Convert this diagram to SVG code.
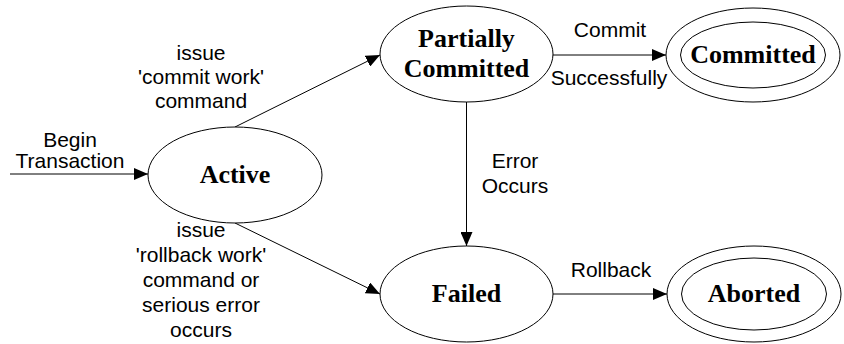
<svg xmlns="http://www.w3.org/2000/svg" width="844" height="344" viewBox="0 0 844 344">
<style>
.st{fill:#fff;stroke:#000;stroke-width:1}
.t{font-family:"Liberation Serif","Times New Roman",serif;font-weight:bold;font-size:26px;text-anchor:middle;fill:#000}
.l{font-family:"Liberation Sans",Arial,sans-serif;font-size:21px;text-anchor:middle;fill:#000}
.c{stroke:#000;stroke-width:1;fill:none;marker-end:url(#ah)}
</style>
<defs>
<marker id="ah" markerWidth="14" markerHeight="12" refX="14" refY="6" orient="auto" markerUnits="userSpaceOnUse">
<path d="M0,0 L14,6 L0,12 z" fill="#000"/>
</marker>
</defs>
<rect width="844" height="344" fill="#fff"/>
<g id="connectors">
<line class="c" x1="10" y1="174" x2="148" y2="174"/>
<line class="c" x1="235" y1="127" x2="380" y2="55"/>
<line class="c" x1="235" y1="223" x2="380" y2="294"/>
<line class="c" x1="553" y1="55" x2="666" y2="55"/>
<line class="c" x1="466.5" y1="102" x2="466.5" y2="246"/>
<line class="c" x1="553" y1="294" x2="667" y2="294"/>
</g>
<g id="labels">
<text class="l" x="70" y="147">Begin</text>
<text class="l" x="70" y="168">Transaction</text>
<text class="l" x="201" y="60">issue</text>
<text class="l" x="201" y="84">'commit work'</text>
<text class="l" x="201" y="108">command</text>
<text class="l" x="201" y="237">issue</text>
<text class="l" x="201" y="262">'rollback work'</text>
<text class="l" x="201" y="287">command or</text>
<text class="l" x="201" y="312">serious error</text>
<text class="l" x="201" y="337">occurs</text>
<text class="l" x="515" y="168">Error</text>
<text class="l" x="515" y="193">Occurs</text>
<text class="l" x="610" y="37">Commit</text>
<text class="l" x="609" y="85">Successfully</text>
<text class="l" x="611" y="277">Rollback</text>
</g>
<g id="active">
<ellipse class="st" cx="235" cy="175" rx="87" ry="48"/>
<text class="t" x="235" y="183">Active</text>
</g>
<g id="partially-committed">
<ellipse class="st" cx="466.5" cy="54" rx="86.5" ry="48"/>
<text class="t" x="466.5" y="47">Partially</text>
<text class="t" x="466.5" y="77">Committed</text>
</g>
<g id="committed">
<ellipse class="st" cx="753" cy="55" rx="87" ry="47"/>
<ellipse class="st" cx="753" cy="55" rx="72.5" ry="33"/>
<text class="t" x="753" y="63">Committed</text>
</g>
<g id="failed">
<ellipse class="st" cx="466.5" cy="294" rx="86.5" ry="48"/>
<text class="t" x="466.5" y="302">Failed</text>
</g>
<g id="aborted">
<ellipse class="st" cx="754" cy="294" rx="87" ry="48"/>
<ellipse class="st" cx="754" cy="294" rx="72.5" ry="36"/>
<text class="t" x="754" y="302">Aborted</text>
</g>
</svg>
